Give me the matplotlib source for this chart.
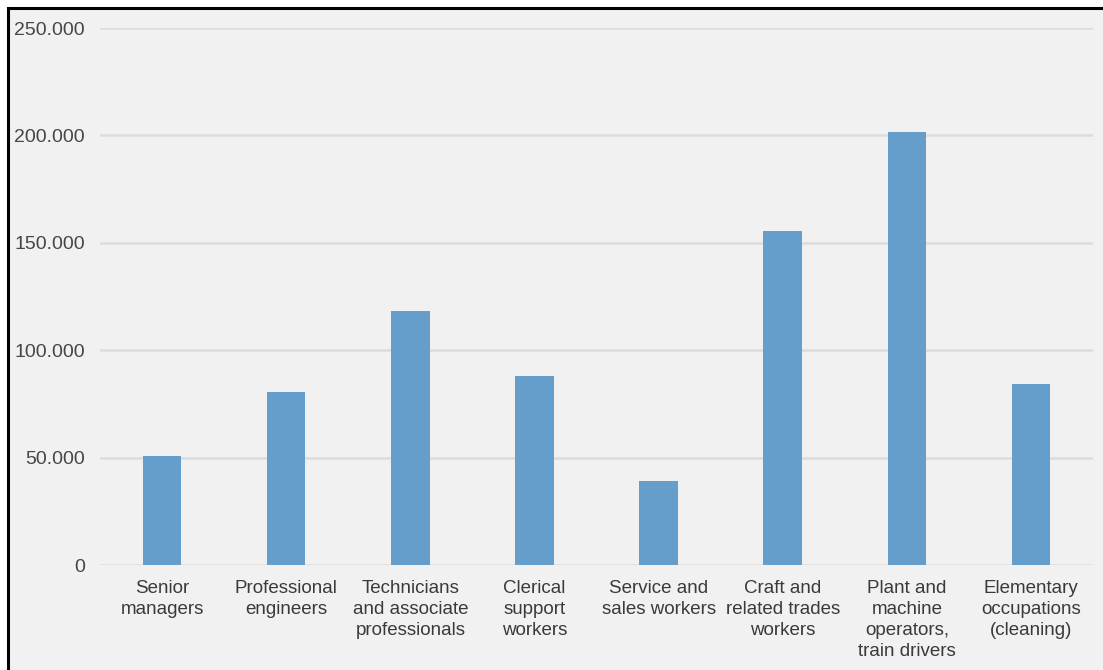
import matplotlib.pyplot as plt
from matplotlib.patches import Rectangle
from matplotlib.ticker import FuncFormatter

# data
categories = ["Senior\nmanagers", "Professional\nengineers",
              "Technicians\nand associate\nprofessionals",
              "Clerical\nsupport\nworkers", "Service and\nsales workers",
              "Craft and\nrelated trades\nworkers",
              "Plant and\nmachine\noperators,\ntrain drivers",
              "Elementary\noccupations\n(cleaning)"]
values = [50800, 80600, 118400, 88000, 39300, 155600, 201800, 84300]
yticks = [0, 50000, 100000, 150000, 200000, 250000]

W, H = 1103, 670
plt.rcParams['font.family'] = ['Liberation Sans', 'DejaVu Sans']
fig = plt.figure(figsize=(W / 100, H / 100), dpi=100)
fig.patch.set_facecolor('white')

# grey panel with black frame (right and bottom edges run off the picture)
fig.patches.append(Rectangle((8 / W, -0.1), 1.2, (H - 8) / H + 0.1,
                             transform=fig.transFigure, facecolor='#f1f1f1',
                             edgecolor='black', linewidth=2.2, zorder=-5))

ax = fig.add_axes([100 / W, (H - 565) / H, 993 / W, 537 / H])
ax.set_facecolor('none')
x = range(len(values))
ax.bar(x, values, width=0.31, color='#659dcb', zorder=3)

ax.set_xlim(-0.5, len(values) - 0.5)
ax.set_ylim(0, 250000)
ax.set_yticks(yticks)
ax.yaxis.set_major_formatter(FuncFormatter(lambda v, p: f"{int(v):,}".replace(",", ".")))
ax.set_xticks(list(x))
ax.set_xticklabels(categories, fontsize=13.5, color='#3a3a3a', linespacing=1.3)
ax.tick_params(axis='y', labelsize=14, colors='#464646', length=0, pad=11)
ax.tick_params(axis='x', length=0, pad=11)
ax.grid(axis='y', color='#dcdcdc', linewidth=1.8, zorder=1)
for s in ax.spines.values():
    s.set_visible(False)

fig.savefig('out.png', dpi=100)
